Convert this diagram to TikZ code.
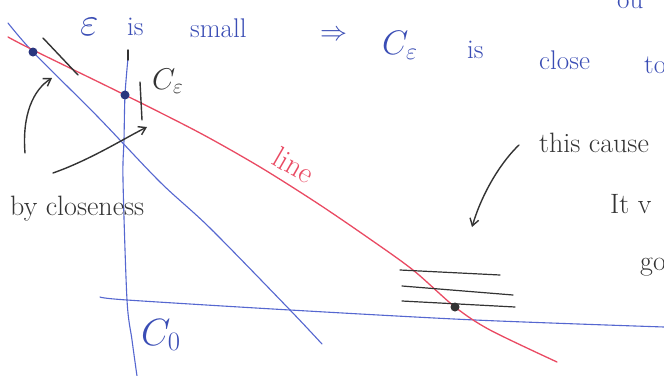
\RequirePackage{fix-cm}
\documentclass[tikz,border=0pt]{standalone}
\usetikzlibrary{arrows.meta}
\definecolor{penblue}{HTML}{5567D0}
\definecolor{inkblue}{HTML}{3A4DB5}
\definecolor{penred}{HTML}{EA4A63}
\definecolor{penblack}{HTML}{333333}
\tikzset{
  blueline/.style={penblue, line width=1.1pt, line cap=round},
  redline/.style={penred, line width=1.3pt, line cap=round},
  blackline/.style={penblack, line width=1.4pt, line cap=round},
  arr/.style={blackline, -{Straight Barb[length=7pt,width=9pt]}},
  bluetxt/.style={inkblue, inner sep=0pt, anchor=base west, font=\fontsize{27}{30}\selectfont},
  blacktxt/.style={penblack, inner sep=0pt, anchor=base west, font=\fontsize{28}{30}\selectfont},
  dot/.style={circle, inner sep=0pt, minimum size=9pt, fill=#1},
}
\begin{document}
\begin{tikzpicture}[x=1pt,y=-1pt]
\useasboundingbox (0,0) rectangle (664,375);
\clip (0,0) rectangle (664,375);
\fill[white] (0,0) rectangle (664,375);
% lines
\draw[blueline] plot[smooth] coordinates {(8,23) (33,52) (98,117) (160,182) (210,228) (290,310) (322,344)};
\draw[blueline] plot[smooth] coordinates {(128,58) (125,95) (124,140) (123,180) (127,300) (132,340) (137,376)};
\draw[blackline] (128,50) -- (128,60);
\draw[blueline] plot[smooth] coordinates {(100,297) (127,300) (290,310) (475,320) (664,327)};
\draw[redline] plot[smooth] coordinates {(8,37) (33,50) (125,95) (200,133) (260,167) (317,203) (367,237) (413,270) (455,307) (490,330) (557,362)};
% ticks
\draw[blackline] (43,38) -- (78,75);
\draw[blackline] (140,82) -- (142,120);
% three short lines
\draw[blackline, line width=1.2pt] (400,270) -- (500,275);
\draw[blackline, line width=1.2pt] (402,286) -- (513,295);
\draw[blackline, line width=1.2pt] (402,301) -- (515,307);
% dots
\node[dot=inkblue!70!black] (d1) at (33,52) {};
\node[dot=inkblue!70!black] (d2) at (125,95) {};
\node[dot=penblack] (d3) at (455,307) {};
% arrows
\coordinate (a1s) at (25,153);
\coordinate (a1e) at (52,78);
\draw[arr] (a1s) .. controls (22,115) and (33,90) .. (a1e);
\coordinate (a2s) at (53,173);
\coordinate (a2e) at (147,127);
\draw[arr] (a2s) .. controls (90,160) and (125,138) .. (a2e);
\coordinate (a3s) at (519,145);
\coordinate (a3e) at (472,227);
\draw[arr] (a3s) .. controls (503,160) and (483,190) .. (a3e);
% blue heading
\node[bluetxt, font=\fontsize{40}{42}\selectfont] (t1) at (80,35) {$\varepsilon$};
\node[bluetxt] (t2) at (127,35) {is};
\node[bluetxt] (t3) at (190,37) {small};
\node[bluetxt] (t4) at (320,40) {$\Rightarrow$};
\node[bluetxt, font=\fontsize{34}{36}\selectfont] (t5) at (382,54) {$C_\varepsilon$};
\node[bluetxt] (t6) at (467,58) {is};
\node[bluetxt] (t7) at (539,69) {close};
\node[bluetxt] (t8) at (644,73) {to};
\node[bluetxt] (t9) at (617,8) {ou};
% other labels
\node[blacktxt, font=\fontsize{30}{32}\selectfont] (ce) at (152,89) {$C_\varepsilon$};
\node[blacktxt] (bc) at (10,215) {by closeness};
\node[bluetxt, font=\fontsize{38}{40}\selectfont] (c0) at (141,345) {$C_0$};
\node[penred, inner sep=0pt, rotate=-30, font=\fontsize{30}{32}\selectfont] (ln) at (294,165) {line};
\node[blacktxt] (tc) at (539,152) {this cause};
\node[blacktxt] (it) at (610,213) {It v};
\node[blacktxt] (go) at (640,270) {go};
\end{tikzpicture}
\end{document}
